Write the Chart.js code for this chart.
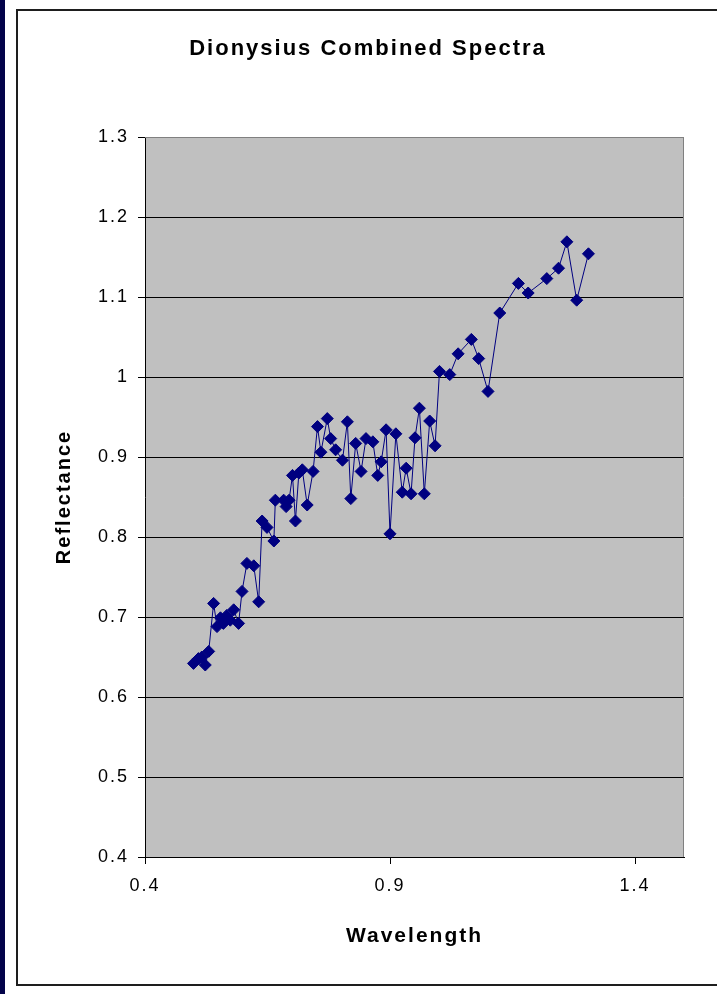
<!DOCTYPE html>
<html>
<head>
<meta charset="utf-8">
<title>Dionysius Combined Spectra</title>
<script src="https://cdn.jsdelivr.net/npm/chart.js@4.4.0/dist/chart.umd.min.js"></script>
<style>
    html, body { margin: 0; padding: 0; background: #fff; }
    body { width: 717px; height: 994px; position: relative; overflow: hidden; }
    #edge { position: absolute; left: 0; top: 0; width: 5px; height: 994px; background: #03034a; }
    #frame { position: absolute; left: 16px; top: 9px; width: 720px; height: 973px; border: 2px solid #1e1e1e; border-right: none; }
    #stage { position: absolute; left: 0; top: 0; }
</style>
</head>
<body>
<div id="edge"></div>
<div id="frame"></div>
<canvas id="stage" width="717" height="994"></canvas>
<script>
// Spectrum values
const wavelength = [0.499, 0.509, 0.516, 0.523, 0.530, 0.540, 0.547, 0.554, 0.560, 0.567,
    0.574, 0.581, 0.591, 0.598, 0.608, 0.622, 0.632, 0.639, 0.649, 0.663,
    0.666, 0.683, 0.688, 0.694, 0.701, 0.707, 0.714, 0.721, 0.731, 0.743,
    0.752, 0.759, 0.772, 0.779, 0.789, 0.803, 0.813, 0.820, 0.830, 0.841,
    0.851, 0.865, 0.875, 0.882, 0.892, 0.900, 0.912, 0.925, 0.933, 0.943,
    0.951, 0.960, 0.970, 0.981, 0.992, 1.001, 1.022, 1.039, 1.066, 1.081,
    1.100, 1.124, 1.162, 1.182, 1.220, 1.244, 1.261, 1.281, 1.305];
const reflectance = [0.642, 0.648, 0.650, 0.640, 0.657, 0.717, 0.688, 0.699, 0.692, 0.702,
    0.696, 0.709, 0.692, 0.732, 0.767, 0.764, 0.719, 0.820, 0.812, 0.795,
    0.846, 0.846, 0.838, 0.846, 0.877, 0.820, 0.880, 0.884, 0.840, 0.882,
    0.938, 0.906, 0.948, 0.923, 0.909, 0.896, 0.944, 0.848, 0.917, 0.882,
    0.923, 0.919, 0.877, 0.894, 0.934, 0.804, 0.929, 0.856, 0.886, 0.854,
    0.924, 0.961, 0.854, 0.945, 0.914, 1.007, 1.003, 1.029, 1.047, 1.023,
    0.982, 1.080, 1.117, 1.105, 1.123, 1.136, 1.169, 1.096, 1.154];

// Axis ticks
const xTickValues = [0.4, 0.9, 1.4];
const yMin = 0.4, yMax = 1.3, yStep = 0.1;

// Grey plot area, like the Excel default
const plotBackground = {
    id: 'plotBackground',
    beforeDraw(chart) {
        const { ctx, chartArea: a } = chart;
        ctx.letterSpacing = '2px';
        ctx.save();
        ctx.fillStyle = '#c0c0c0';
        ctx.fillRect(a.left, a.top, a.right - a.left, a.bottom - a.top);
        ctx.restore();
    },
    beforeDatasetsDraw(chart) {
        const { ctx, chartArea: a } = chart;
        ctx.save();
        ctx.strokeStyle = '#808080';
        ctx.lineWidth = 1;
        ctx.beginPath();
        ctx.moveTo(a.left, a.top + 0.5);
        ctx.lineTo(a.right - 0.5, a.top + 0.5);
        ctx.lineTo(a.right - 0.5, a.bottom);
        ctx.stroke();
        ctx.restore();
    }
};

const points = wavelength.map((w, i) => ({ x: w, y: reflectance[i] }));
const fontFamily = '"Liberation Sans", Arial, sans-serif';

const ctx = document.getElementById('stage').getContext('2d');
const spectraChart = new Chart(ctx, {
    type: 'scatter',
    data: {
        datasets: [{
            label: 'Dionysius',
            data: points,
            showLine: true,
            borderColor: '#000080',
            borderWidth: 1,
            backgroundColor: '#000080',
            pointStyle: 'rectRot',
            pointRadius: 6,
            pointBorderWidth: 1,
            pointBorderColor: '#000080',
            tension: 0
        }]
    },
    options: {
        responsive: false,
        animation: false,
        layout: {
            padding: { left: 52, right: 33, top: 0, bottom: 37 }
        },
        plugins: {
            legend: { display: false },
            tooltip: { enabled: false },
            title: {
                display: true,
                text: 'Dionysius Combined Spectra',
                color: '#000',
                font: { family: fontFamily, size: 22, weight: 'bold' },
                padding: { top: 36, bottom: 74.6 }
            }
        },
        scales: {
            x: {
                type: 'linear',
                min: 0.4,
                max: 1.5,
                afterBuildTicks: scale => {
                    scale.ticks = xTickValues.map(v => ({ value: v }));
                },
                afterFit: scale => { scale.height = 100; },
                grid: {
                    drawOnChartArea: false,
                    drawTicks: true,
                    tickLength: 7,
                    color: '#000'
                },
                border: { display: true, color: '#000', width: 1 },
                ticks: {
                    color: '#000',
                    padding: 11,
                    maxRotation: 0,
                    font: { family: fontFamily, size: 18 },
                    callback: v => String(+v.toFixed(1))
                },
                title: {
                    display: true,
                    text: 'Wavelength',
                    color: '#000',
                    font: { family: fontFamily, size: 21, weight: 'bold' },
                    padding: { top: 0, bottom: 8 }
                }
            },
            y: {
                min: yMin,
                max: yMax,
                afterFit: scale => { scale.width = 93; },
                grid: {
                    color: c => (c.tick && c.tick.value >= yMax - 0.001 ? '#808080' : '#000'),
                    drawTicks: true,
                    tickLength: 7,
                    tickColor: '#000'
                },
                border: { display: true, color: '#000', width: 1 },
                ticks: {
                    stepSize: yStep,
                    color: '#000',
                    padding: 9,
                    font: { family: fontFamily, size: 18 },
                    callback: v => String(+v.toFixed(1))
                },
                title: {
                    display: true,
                    text: 'Reflectance',
                    color: '#000',
                    font: { family: fontFamily, size: 20, weight: 'bold' },
                    padding: 0
                }
            }
        }
    },
    plugins: [plotBackground]
});
</script>
</body>
</html>
